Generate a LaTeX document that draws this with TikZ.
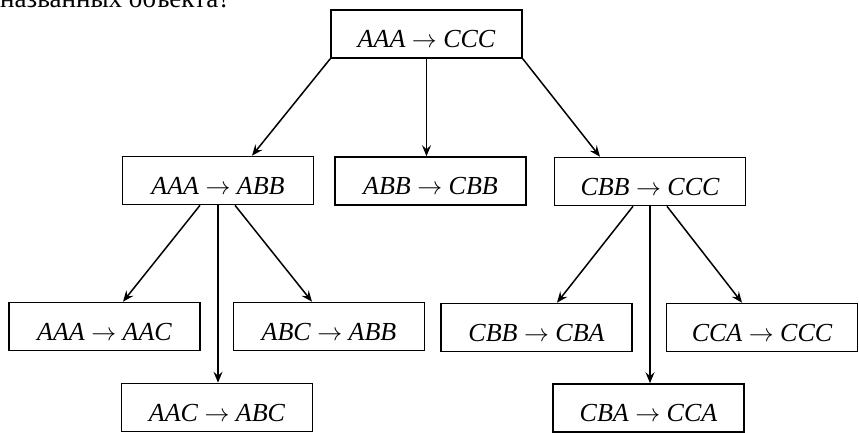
\documentclass[tikz,border=0pt]{standalone}
\usepackage{fontspec}
\setmainfont{Liberation Serif}
\usetikzlibrary{arrows.meta,calc}
\begin{document}
\begin{tikzpicture}[x=1pt,y=-1pt,
  box/.style={draw,line width=1.6pt,minimum width=191pt,minimum height=48pt,
    inner sep=0pt,text height=27pt,text depth=0pt,
    font=\fontsize{26}{30}\selectfont\itshape},
  arr/.style={line width=1.5pt,-{Stealth[length=11pt,width=9pt,inset=4pt]}},
  heading/.style={anchor=base west,inner sep=0pt,font=\fontsize{27}{32}\selectfont}]
\useasboundingbox (0,0) rectangle (859,432);
\clip (0,0) rectangle (859,432);
\node[heading] (hd) at (0,7) {названных объекта?};
\node[box] (top) at (426.5,34) {AAA $\rightarrow$ CCC};
\node[box] (L1) at (218,180.5) {AAA $\rightarrow$ ABB};
\node[box] (M1) at (430.5,181) {ABB $\rightarrow$ CBB};
\node[box] (R1) at (650,181.5) {CBB $\rightarrow$ CCC};
\node[box] (LL) at (104.5,326.5) {AAA $\rightarrow$ AAC};
\node[box] (LR) at (329,326.5) {ABC $\rightarrow$ ABB};
\node[box] (LB) at (217,407.5) {AAC $\rightarrow$ ABC};
\node[box] (RL) at (536.5,327.5) {CBB $\rightarrow$ CBA};
\node[box] (RR) at (762,327.5) {CCA $\rightarrow$ CCC};
\node[box] (RB) at (648.5,408) {CBA $\rightarrow$ CCA};
\draw[arr] (top.south west) -- ($(L1.north)+(34,0)$);
\draw[arr] (top.south) -- (top.south |- M1.north);
\draw[arr] (top.south east) -- ($(R1.north)+(-50,0)$);
\draw[arr] ($(L1.south)+(-18,0)$) -- ($(LL.north)+(18.5,0)$);
\draw[arr] (L1.south) -- (L1.south |- LB.north);
\draw[arr] ($(L1.south)+(17,0)$) -- ($(LR.north)+(-17,0)$);
\draw[arr] ($(R1.south)+(-17,0)$) -- ($(RL.north)+(20.5,0)$);
\draw[arr] (R1.south) -- (R1.south |- RB.north);
\draw[arr] ($(R1.south)+(17,0)$) -- ($(RR.north)+(-20,0)$);
\end{tikzpicture}
\end{document}
